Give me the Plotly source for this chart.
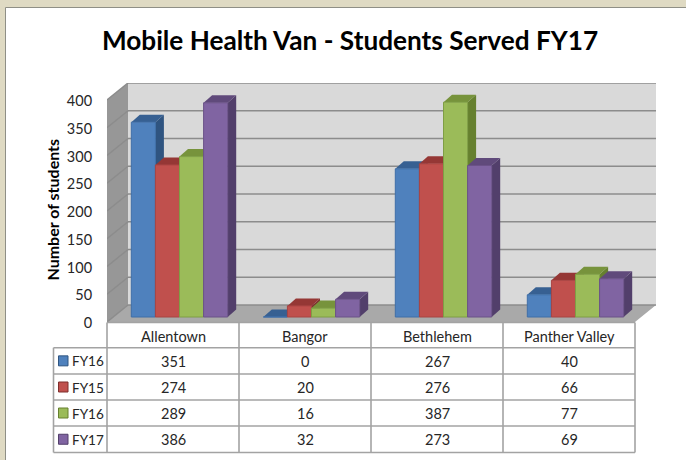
import plotly.graph_objects as go

# ---- data ----
categories = ["Allentown", "Bangor", "Bethlehem", "Panther Valley"]
series_names = ["FY16", "FY15", "FY16", "FY17"]
fy16_a = [351, 0, 267, 40]
fy15 = [274, 20, 276, 66]
fy16_b = [289, 16, 387, 77]
fy17 = [386, 32, 273, 69]
series_values = [fy16_a, fy15, fy16_b, fy17]
y_ticks = [0, 50, 100, 150, 200, 250, 300, 350, 400]

front_colors = ["#4F81BD", "#C0504D", "#9BBB59", "#8064A2"]
edge_colors = ["#3F6FA8", "#A84442", "#7F9E45", "#6A5288"]
side_colors = ["#2F5480", "#7F2F2D", "#66802F", "#523F6B"]
top_colors = ["#376092", "#953735", "#77933C", "#604A7B"]

FONT = "Lato, Carlito, Calibri, sans-serif"
W, H = 686, 460
ML, MR, MT, MB = 107, 29, 83, 138
PW, PH = W - ML - MR, H - MT - MB
PX_X = 132.0   # pixels per category
PX_Y = 0.555   # pixels per student
WALL_DX, WALL_DY = 21, 17
BAR_OFF_X, BAR_OFF_Y = 6.5, 5
BAR_DX, BAR_DY = 8.5, 7.5
BAR_W = 24.1 / PX_X
X_MAX = PW / PX_X
Y_MAX = PH / PX_Y


def X(pos, dx=0):
    return pos + dx / PX_X


def Y(val, dy=0):
    return val + dy / PX_Y


def paper_x(px):
    return (px - ML) / PW


def paper_y(px):
    return (H - MB - px) / PH


def cat_px(pos):
    return ML + pos * PX_X


def poly_path(pts):
    return "M " + " L ".join(f"{a:.4f},{b:.4f}" for a, b in pts) + " Z"


shapes = []


def add_poly(pts, fill):
    shapes.append(dict(type="path", path=poly_path(pts), xref="x", yref="y",
                       fillcolor=fill, line=dict(color="rgba(0,0,0,0)", width=0), layer="below"))


def add_line(x0, y0, x1, y1, color="#8C8C8C", width=1.5):
    shapes.append(dict(type="line", x0=x0, y0=y0, x1=x1, y1=y1, xref="x", yref="y",
                       line=dict(color=color, width=width), layer="below"))


def add_grid_line(px0, py0, px1, py1, color="#A3A3A3", width=1.6):
    shapes.append(dict(type="line", x0=paper_x(px0), y0=paper_y(py0), x1=paper_x(px1), y1=paper_y(py1),
                       xref="paper", yref="paper", line=dict(color=color, width=width), layer="above"))


# page background and white chart panel
shapes.append(dict(type="rect", xref="paper", yref="paper",
                   x0=paper_x(5.5), x1=paper_x(W + 10), y0=paper_y(H + 10), y1=paper_y(7.5),
                   fillcolor="white", line=dict(color="#8F8F86", width=1), layer="below"))

# walls and floor
nx = len(categories)
add_poly([(X(0), Y(0)), (X(0, WALL_DX), Y(0, WALL_DY)), (X(0, WALL_DX), Y(400, WALL_DY)), (X(0), Y(400))], "#979797")
add_poly([(X(0, WALL_DX), Y(0, WALL_DY)), (X(0, WALL_DX), Y(400, WALL_DY)),
          (X(nx, WALL_DX), Y(400, WALL_DY)), (X(nx, WALL_DX), Y(0, WALL_DY))], "#D9D9D9")
add_poly([(X(0), Y(0)), (X(0, WALL_DX), Y(0, WALL_DY)), (X(nx, WALL_DX), Y(0, WALL_DY)), (X(nx), Y(0))], "#A9A9A9")
for t in y_ticks:
    add_line(X(0), Y(t), X(0, WALL_DX), Y(t, WALL_DY))
    add_line(X(0, WALL_DX), Y(t, WALL_DY), X(nx, WALL_DX), Y(t, WALL_DY))

traces = []
# side and top faces, left to right so that nearer faces cover farther ones
for c in range(nx):
    for s, vals in enumerate(series_values):
        v = vals[c]
        x0 = X(c + 0.5, BAR_OFF_X) + (s - 2) * BAR_W
        x1 = x0 + BAR_W
        yb = Y(0, BAR_OFF_Y)
        yt = Y(v, BAR_OFF_Y)
        sx = [x1, X(x1, BAR_DX), X(x1, BAR_DX), x1, x1]
        sy = [yb, Y(yb, BAR_DY), Y(yt, BAR_DY), yt, yb]
        tx = [x0, X(x0, BAR_DX), X(x1, BAR_DX), x1, x0]
        ty = [yt, Y(yt, BAR_DY), Y(yt, BAR_DY), yt, yt]
        if v > 0:
            traces.append(go.Scatter(x=sx, y=sy, mode="lines", fill="toself", fillcolor=side_colors[s],
                                     line=dict(width=0, color=side_colors[s]), showlegend=False,
                                     hoverinfo="skip", cliponaxis=False))
        traces.append(go.Scatter(x=tx, y=ty, mode="lines", fill="toself", fillcolor=top_colors[s],
                                 line=dict(width=0, color=top_colors[s]), showlegend=False,
                                 hoverinfo="skip", cliponaxis=False))

# front faces, on an overlaid axis pair so that they sit above every side face
for s, vals in enumerate(series_values):
    xs = [X(c + 0.5, BAR_OFF_X) + (s - 1.5) * BAR_W for c in range(nx)]
    traces.append(go.Bar(x=xs, y=vals, base=Y(0, BAR_OFF_Y), width=BAR_W, name=series_names[s],
                         marker=dict(color=front_colors[s], line=dict(color=edge_colors[s], width=1)),
                         xaxis="x2", yaxis="y2", showlegend=False, cliponaxis=False))

# data table grid
row_px = [322.5, 347.7, 374, 400, 426, 452.5]
left_px = 53.5
for i, p in enumerate(row_px):
    add_grid_line(left_px if i > 0 else cat_px(0), p, cat_px(nx), p)
for c in range(nx + 1):
    add_grid_line(cat_px(c), row_px[0], cat_px(c), row_px[-1])
add_grid_line(left_px, row_px[1], left_px, row_px[-1])

annotations = []


def add_text(px, py, text, size=14.5, anchor="center", color="#262626", **kw):
    annotations.append(dict(x=paper_x(px), y=paper_y(py), xref="paper", yref="paper", text=text,
                            showarrow=False, xanchor=anchor, yanchor="middle",
                            font=dict(family=FONT, size=size, color=color), **kw))


for c, name in enumerate(categories):
    add_text(cat_px(c + 0.5), (row_px[0] + row_px[1]) / 2 + 1.5, name)
for s, vals in enumerate(series_values):
    cy = (row_px[s + 1] + row_px[s + 2]) / 2
    for c, v in enumerate(vals):
        add_text(cat_px(c + 0.5), cy + 0.5, str(v))
    add_text(70, cy + 0.5, series_names[s], size=13.5, anchor="left")
    shapes.append(dict(type="rect", x0=paper_x(58.5), x1=paper_x(68), y0=paper_y(cy + 5), y1=paper_y(cy - 5),
                       xref="paper", yref="paper", fillcolor=front_colors[s],
                       line=dict(color=side_colors[s], width=1), layer="above"))

add_text(52, 209.5, "<b>Number of students</b>", size=16, color="black", textangle=-90)

axis_common = dict(showgrid=False, zeroline=False, showline=False)
fig = go.Figure(traces)
fig.update_layout(
    width=W, height=H, autosize=False,
    margin=dict(l=ML, r=MR, t=MT, b=MB, pad=0),
    paper_bgcolor="#DFDAC3", plot_bgcolor="rgba(0,0,0,0)",
    barmode="overlay", showlegend=False,
    title=dict(text="<b>Mobile Health Van - Students Served FY17</b>", x=350 / W, xanchor="center",
               y=1 - 41 / H, yanchor="middle", font=dict(family=FONT, size=26.2, color="black")),
    xaxis=dict(range=[0, X_MAX], showticklabels=False, ticks="", **axis_common),
    yaxis=dict(range=[0, Y_MAX], tickmode="array", tickvals=y_ticks, ticks="outside", ticklen=11,
               tickcolor="rgba(0,0,0,0)", ticklabelshift=1,
               tickfont=dict(family=FONT, size=14.5, color="#262626"), **axis_common),
    xaxis2=dict(range=[0, X_MAX], overlaying="x", visible=False),
    yaxis2=dict(range=[0, Y_MAX], overlaying="y", visible=False),
    shapes=shapes, annotations=annotations,
)
fig.write_html("out.html", config=dict(displayModeBar=False),
               post_script="document.body.style.margin='0';")
